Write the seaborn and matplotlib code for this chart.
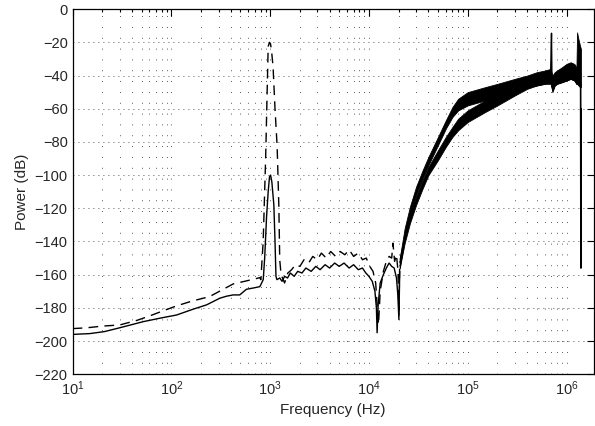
import matplotlib
matplotlib.use("Agg")
import matplotlib.pyplot as plt
import seaborn as sns
import numpy as np
import pandas as pd
from matplotlib.ticker import LogLocator, MultipleLocator, NullFormatter

# ---- data (frequency in Hz, power in dB) ----
solid_freq = [10, 15, 21, 30, 52, 80, 113, 166, 227, 309, 360, 422, 492, 575, 680, 787,
              851, 880, 920, 955, 985, 1010, 1040, 1090, 1120, 1145, 1170, 1250, 1320, 1400,
              1500, 1600, 1750, 1900, 2100, 2300, 2600, 2900, 3200, 3600, 4000, 4500, 5000,
              5600, 6300, 7000, 7800, 8600, 9300, 10000, 10800, 11500, 11900, 12100, 12400,
              13000, 14000, 15000, 16000, 17000, 18000, 19000, 19600, 20100, 20500]
solid_db = [-196, -195.5, -194.3, -192, -188.3, -186, -184.3, -180.8, -178.2, -174.2, -173,
            -172.2, -172.2, -168.8, -168, -167.2, -163, -150, -125, -110, -101, -100, -104,
            -118, -140, -161, -163, -162, -164, -161, -162, -159, -161, -158, -159, -156,
            -158, -155, -157, -154, -156, -153, -155, -153, -156, -154, -157, -156, -159,
            -161, -164, -170, -180, -195, -178, -165, -160, -156, -153, -155, -156, -162,
            -172, -187, -158]

dash_freq = [10, 14, 20, 30, 45, 60, 85, 113, 160, 244, 330, 422, 534, 650, 787, 805, 850,
             900, 955, 985, 1010, 1040, 1070, 1120, 1177, 1225, 1250, 1290, 1400, 1510, 1650,
             1800, 2000, 2200, 2450, 2700, 3000, 3300, 3700, 4100, 4600, 5100, 5700, 6300,
             7000, 7800, 8600, 9400, 10200, 11000, 11700, 12100, 12500, 13000, 14000, 15000,
             16000, 17000, 17500, 18200, 19000, 19700, 20100, 20500]
dash_db = [-192.5, -192, -191, -190.3, -187.5, -184.9, -181.5, -178.8, -176, -173.2, -169,
           -165.6, -164.2, -163, -161.8, -163, -140, -90, -22.5, -20, -21, -27, -34.6, -60,
           -82.8, -119, -151, -160, -165, -159, -157, -154, -155, -151, -153, -149, -151,
           -147, -150, -146, -149, -146, -148, -145, -149, -147, -151, -150, -155, -158,
           -165, -178, -190, -170, -158, -152, -149, -150, -141, -152, -148, -158, -185, -152]

# high-frequency noisy bands, upper/lower edges of each trace
band_freq = [20500, 23000, 26000, 30000, 35000, 40000, 50000, 60000, 70000, 80000, 100000,
             150000, 200000, 300000, 400000, 500000, 600000, 690000, 720000, 760000, 800000,
             900000, 1000000, 1100000, 1200000, 1260000]
dash_band_hi = [-150, -132, -119, -107, -97, -89, -77, -67, -59, -54, -50, -47, -45, -42,
                -40, -38, -37, -36, -40, -38, -37, -35, -33, -32, -33, -35]
dash_band_lo = [-156, -137, -124, -112, -102, -94, -82, -72, -65, -61, -58, -55, -52, -49,
                -47, -46, -45, -44, -50, -46, -45, -44, -43, -42, -43, -45]
solid_band_hi = [-150, -136, -124, -113, -103, -95, -85, -77, -71, -66, -61, -55, -51, -46,
                 -43, -41, -40, -39, -42, -40, -39, -38, -37, -36, -37, -38]
solid_band_lo = [-156, -141, -129, -118, -108, -100, -91, -83, -77, -73, -68, -62, -58, -52,
                 -48, -46, -45, -45, -49, -46, -45, -44, -43, -42, -43, -45]

spike_freq = [690000, 705000, 712000]
spike_db = [-40, -14.5, -42]

edge_freq = [1260000, 1280000, 1320000, 1370000, 1400000]
edge_hi = [-36, -14, -18, -22, -24]
edge_lo = [-45, -45, -46, -47, -47]
drop_freq = [1390000, 1400000, 1405000]
drop_db = [-44, -156, -60]

sns.set_style("white")
plt.rcParams['font.family'] = ['Liberation Sans', 'DejaVu Sans']

fig = plt.figure(figsize=(5.95, 4.26), dpi=100)
ax = fig.add_axes([0.122, 0.1215, 0.876, 0.857])

df_solid = pd.DataFrame({'f': solid_freq, 'p': solid_db})
df_dash = pd.DataFrame({'f': dash_freq, 'p': dash_db})
sns.lineplot(data=df_solid, x='f', y='p', ax=ax, color='black', lw=1.0, sort=False, zorder=3)
sns.lineplot(data=df_dash, x='f', y='p', ax=ax, color='black', lw=1.0, sort=False,
             linestyle=(0, (7, 4.5)), zorder=3)

ax.fill_between(band_freq, dash_band_lo, dash_band_hi, color='black', lw=0.6, zorder=3)
ax.fill_between(band_freq, solid_band_lo, solid_band_hi, color='black', lw=0.6, zorder=3)
ax.fill_between(edge_freq, edge_lo, edge_hi, color='black', lw=0.6, zorder=3)
sns.lineplot(x=spike_freq, y=spike_db, ax=ax, color='black', lw=1.0, sort=False, zorder=3)
sns.lineplot(x=drop_freq, y=drop_db, ax=ax, color='black', lw=1.2, sort=False, zorder=3)

ax.set_xscale('log')
ax.set_xlim(10, 1.89e6)
ax.set_ylim(-220, 0)
ax.yaxis.set_major_locator(MultipleLocator(20))
ax.xaxis.set_major_locator(LogLocator(base=10, numticks=10))
ax.xaxis.set_minor_locator(LogLocator(base=10, subs=np.arange(2, 10), numticks=20))
ax.xaxis.set_minor_formatter(NullFormatter())

# MATLAB-like dotted grid: horizontal rows denser than vertical columns
ax.grid(True, which='major', axis='y', color='#222222', lw=0.6, linestyle=(0, (1, 5)))
ax.grid(True, which='both', axis='x', color='#222222', lw=0.6, linestyle=(0, (1, 12)))

ax.tick_params(which='both', direction='in', top=True, right=True, labelsize=10.5,
               color='black', width=0.8)
ax.tick_params(which='major', length=5)
ax.tick_params(which='minor', length=2.5)
for s in ax.spines.values():
    s.set_color('black')
    s.set_linewidth(0.9)

ax.set_xlabel('Frequency (Hz)', fontsize=11)
ax.set_ylabel('Power (dB)', fontsize=11)

fig.savefig('out.png', dpi=100)
